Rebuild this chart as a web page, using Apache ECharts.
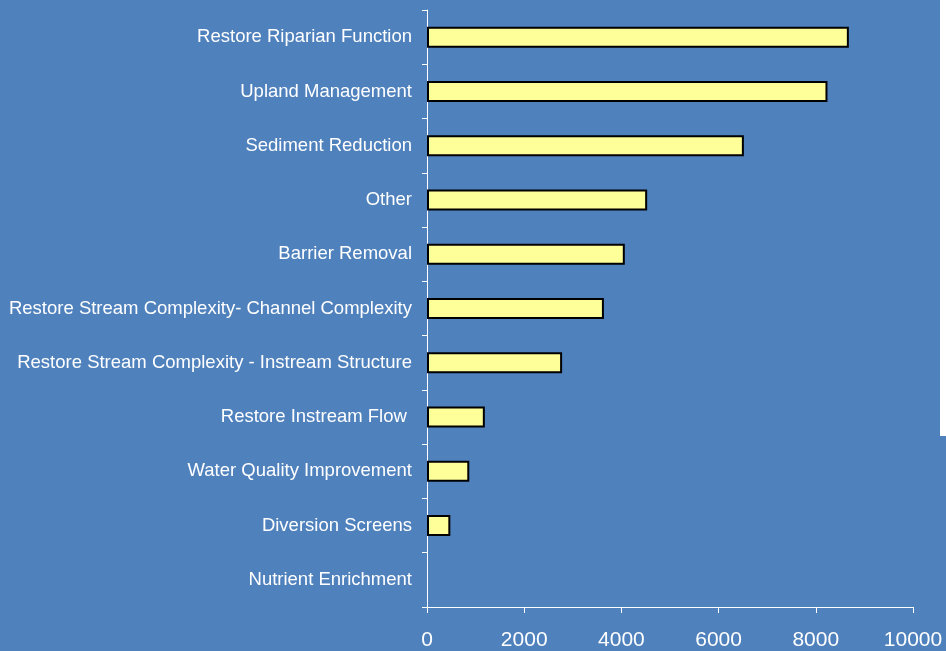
<!DOCTYPE html>
<html>
<head>
<meta charset="utf-8">
<script src="https://cdn.jsdelivr.net/npm/echarts@6/dist/echarts.min.js"></script>
<style>
  html, body { margin: 0; padding: 0; background: #4F81BD; }
  #chart { width: 946px; height: 651px; }
</style>
</head>
<body>
<div id="chart"></div>
<script>
// Restoration activity categories, top to bottom
const categories = [
  'Restore Riparian Function',
  'Upland Management',
  'Sediment Reduction',
  'Other',
  'Barrier Removal',
  'Restore Stream Complexity- Channel Complexity',
  'Restore Stream Complexity - Instream Structure',
  'Restore Instream Flow ',
  'Water Quality Improvement',
  'Diversion Screens',
  'Nutrient Enrichment'
];

// Value for each category
const values = [8680, 8240, 6520, 4530, 4070, 3640, 2780, 1190, 870, 480, 0];

// Value axis ticks
const xMin = 0;
const xMax = 10000;
const xStep = 2000;

const chart = echarts.init(document.getElementById('chart'));

// Zero-length bars get no outline so nothing is drawn for them
const barData = values.map(v => (v === 0 ? { value: v, itemStyle: { borderWidth: 0 } } : v));

chart.setOption({
  backgroundColor: '#4F81BD',
  animation: false,
  grid: { left: 427, right: 33, top: 10, bottom: 43, containLabel: false },
  xAxis: {
    type: 'value',
    min: xMin,
    max: xMax,
    interval: xStep,
    splitLine: { show: false },
    axisLine: { show: true, lineStyle: { color: '#FFFFFF', width: 1 } },
    axisTick: { show: true, length: 6, lineStyle: { color: '#FFFFFF' } },
    axisLabel: {
      color: '#FFFFFF',
      fontFamily: 'Liberation Sans, Arial, sans-serif',
      fontSize: 21,
      margin: 23,
      formatter: v => String(v)
    }
  },
  yAxis: {
    type: 'category',
    data: categories,
    inverse: true,
    axisLine: { show: true, lineStyle: { color: '#FFFFFF', width: 1 } },
    axisTick: { show: true, length: 5, lineStyle: { color: '#FFFFFF' } },
    axisLabel: {
      color: '#FFFFFF',
      fontFamily: 'Liberation Sans, Arial, sans-serif',
      fontSize: 18.5,
      margin: 15,
      padding: [4, 0, 0, 0]
    }
  },
  series: [{
    type: 'bar',
    data: barData,
    barWidth: 21,
    itemStyle: {
      color: '#FFFF99',
      borderColor: '#000000',
      borderWidth: 2
    }
  }],
  graphic: [{
    type: 'rect',
    shape: { x: 940, y: 0, width: 6, height: 436 },
    style: { fill: '#FFFFFF' },
    silent: true
  }]
});
</script>
</body>
</html>
